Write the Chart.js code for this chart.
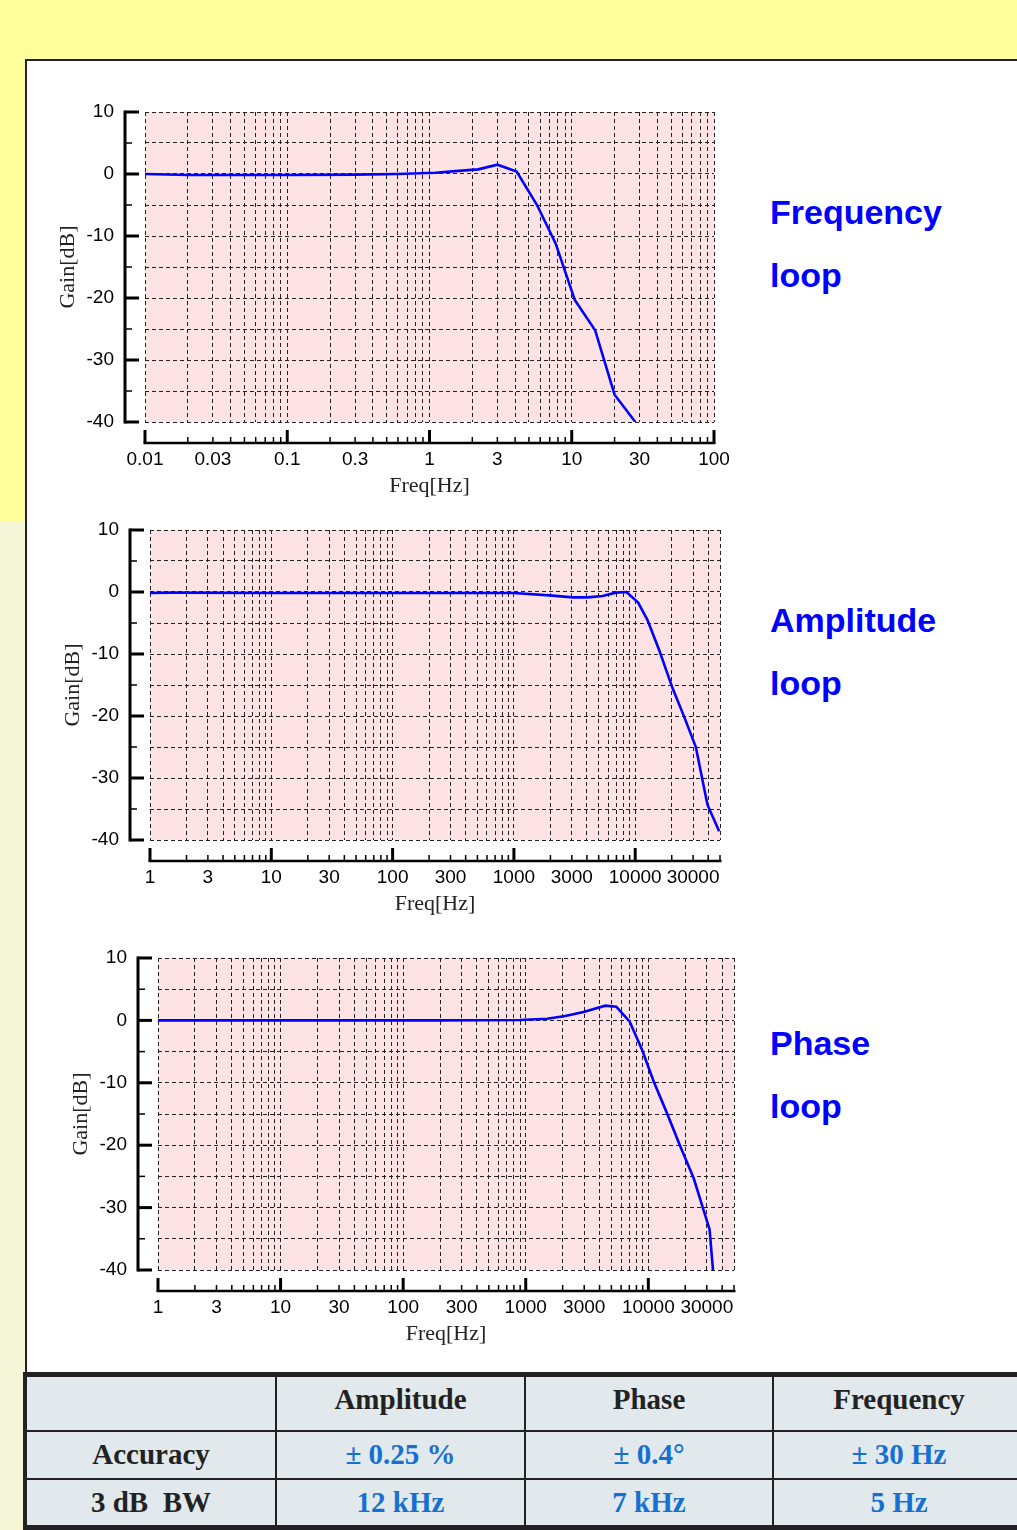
<!DOCTYPE html>
<html lang="en">
<head>
  <meta charset="UTF-8">
  <script src="https://cdn.jsdelivr.net/npm/chart.js"></script>
  <title>Loop response</title>
  <style>
    body{margin:0; width:1017px; height:1530px; overflow:hidden; position:relative;
      background:linear-gradient(to bottom, #ffff9c 0, #ffff9c 522px, #f6f6d8 522px);}
    #panel{position:absolute; left:25px; top:59px; width:1100px; height:1400px; background:#fff; border:2px solid #222;}
    canvas{position:absolute; left:30px;}
    .loop{position:absolute; left:770px; font:bold 34px "Liberation Sans", Arial, sans-serif; line-height:63px; color:#0000ff;}
    #spec{position:absolute; left:23px; top:1372px; width:1000px; border-collapse:collapse; background:#e1e9ec;
      font:bold 29px "Liberation Serif", "Times New Roman", serif; color:#222; table-layout:fixed;}
    #spec td{border:2px solid #222; text-align:center; padding:0;}
    #spec tr:first-child td{border-top:5px solid #222; padding-bottom:7px;}
    #spec tr:last-child td{border-bottom:5px solid #222;}
    #spec td:first-child{border-left:4px solid #222;}
    #spec .val{color:#1670d2;}
  </style>
</head>
<body>
  <div id="panel"></div>
  <canvas id="freqChart" width="710" height="430" style="top:82px"></canvas>
  <canvas id="ampChart" width="710" height="430" style="top:500px"></canvas>
  <canvas id="phaseChart" width="710" height="432" style="top:928px"></canvas>

  <div class="loop" style="top:181px">Frequency<br>loop</div>
  <div class="loop" style="top:589px">Amplitude<br>loop</div>
  <div class="loop" style="top:1012px">Phase<br>loop</div>

  <table id="spec">
    <colgroup><col style="width:251px"><col style="width:249px"><col style="width:248px"><col style="width:252px"></colgroup>
    <tr style="height:56px"><td></td><td>Amplitude</td><td>Phase</td><td>Frequency</td></tr>
    <tr style="height:48px"><td>Accuracy</td><td class="val">± 0.25 %</td><td class="val">± 0.4°</td><td class="val">± 30 Hz</td></tr>
    <tr style="height:49px"><td>3 dB&nbsp; BW</td><td class="val">12 kHz</td><td class="val">7 kHz</td><td class="val">5 Hz</td></tr>
  </table>

  <script>
    // values (Hz, dB)
    const freqLoopHz = [0.01, 0.02, 0.1, 0.3, 0.6, 1.1, 1.6, 2.2, 3, 4.1, 5.7, 7.7, 10.5, 14.6, 20, 28];
    const freqLoopGain = [0, -0.15, -0.15, -0.1, 0, 0.2, 0.5, 0.75, 1.5, 0.4, -5, -11.2, -20.3, -25.2, -35.6, -40];

    const ampLoopHz = [1, 1.5, 10, 100, 1000, 1960, 3050, 4050, 5380, 6920, 8470, 10570, 12600, 15780, 20300, 25300, 31600, 39400, 49200];
    const ampLoopGain = [-0.15, -0.1, -0.15, -0.15, -0.15, -0.55, -0.87, -0.87, -0.65, -0.1, 0, -1.7, -4.5, -9.4, -15.5, -20.1, -25, -34.3, -38.6];

    const phaseLoopHz = [1, 10, 100, 200, 900, 1490, 2100, 2960, 4460, 5480, 7050, 8890, 11060, 14220, 18250, 23450, 31600, 33700];
    const phaseLoopGain = [0, 0, 0, 0, 0.06, 0.27, 0.7, 1.35, 2.36, 2.2, -0.2, -4.7, -9.8, -14.9, -20.2, -25.3, -33.5, -40];

    const freqAxisLabels = ['0.01', '0.03', '0.1', '0.3', '1', '3', '10', '30', '100'];
    const hzAxisLabels = ['1', '3', '10', '30', '100', '300', '1000', '3000', '10000', '30000'];
    const gainAxisLabels = ['10', '0', '-10', '-20', '-30', '-40'];

    function logTicks(min, max){
      let out = [];
      for(let e = Math.floor(Math.log10(min)); e <= Math.ceil(Math.log10(max)); e++){
        for(let m = 1; m < 10; m++){
          let v = Number((m * Math.pow(10, e)).toPrecision(6));
          if(v >= min * 0.9999 && v <= max * 1.0001) out.push(v);
        }
      }
      return out;
    }

    const pinkArea = {
      id: 'pinkArea',
      beforeDraw(chart){
        const a = chart.chartArea, ctx = chart.ctx;
        ctx.save();
        ctx.fillStyle = '#fde3e3';
        ctx.fillRect(a.left, a.top, a.right - a.left, a.bottom - a.top);
        ctx.restore();
      }
    };

    // axis lines sit a little away from the plot box, like the original
    const axisLines = {
      id: 'axisLines',
      afterDraw(chart){
        const ctx = chart.ctx, a = chart.chartArea, xs = chart.scales.x, ys = chart.scales.y;
        const ax = a.left - 20, ay = a.bottom + 21;
        ctx.save();
        ctx.strokeStyle = '#000';
        ctx.lineWidth = 3;
        ctx.beginPath();
        ctx.moveTo(ax, ys.getPixelForValue(ys.max) - 1.5);
        ctx.lineTo(ax, ys.getPixelForValue(ys.min) + 1.5);
        ctx.stroke();
        ys.ticks.forEach(function(t){
          const y = ys.getPixelForValue(t.value);
          const major = t.value % 10 === 0;
          ctx.lineWidth = major ? 3 : 1.5;
          ctx.beginPath();
          ctx.moveTo(ax, y);
          ctx.lineTo(ax + (major ? 14 : 7), y);
          ctx.stroke();
        });
        ctx.lineWidth = 2.5;
        ctx.beginPath();
        ctx.moveTo(xs.getPixelForValue(xs.min) - 1.5, ay);
        ctx.lineTo(xs.getPixelForValue(xs.max) + 1.5, ay);
        ctx.stroke();
        xs.ticks.forEach(function(t){
          const x = xs.getPixelForValue(t.value);
          const m = t.value / Math.pow(10, Math.floor(Math.log10(t.value) + 1e-9));
          const major = Math.abs(m - 1) < 1e-6;
          ctx.lineWidth = major ? 3 : 1.5;
          ctx.beginPath();
          ctx.moveTo(x, ay);
          ctx.lineTo(x, ay - (major ? 13 : 6));
          ctx.stroke();
        });
        ctx.restore();
      }
    };

    function noPad(s){
      s.paddingLeft = 0; s.paddingRight = 0; s.paddingTop = 0; s.paddingBottom = 0;
    }

    function drawLoop(id, hz, gain, xMin, xMax, xLabels, box){
      new Chart(document.getElementById(id), {
        type: 'line',
        data: {
          datasets: [{
            data: hz.map(function(f, i){ return {x: f, y: gain[i]}; }),
            borderColor: '#0000ff',
            borderWidth: 2.6,
            pointRadius: 0,
            tension: 0
          }]
        },
        options: {
          responsive: false,
          animation: false,
          events: [],
          layout: {autoPadding: false, padding: {top: 30, right: 740 - box.right, left: 0, bottom: 0}},
          plugins: {legend: {display: false}, tooltip: {enabled: false}},
          scales: {
            x: {
              type: 'logarithmic',
              min: xMin,
              max: xMax,
              afterBuildTicks(s){ s.ticks = logTicks(xMin, xMax).map(function(v){ return {value: v}; }); },
              afterFit(s){ s.height = 90; noPad(s); },
              grid: {color: '#222', lineWidth: 1, drawTicks: false},
              border: {display: false, dash: [4, 3]},
              ticks: {
                autoSkip: false, maxRotation: 0, minRotation: 0, padding: 26, color: '#000',
                font: {family: '"Liberation Sans", Arial, sans-serif', size: 19},
                callback(v){
                  const l = xLabels.find(function(s){ return Math.abs(Number(s) - v) < v * 1e-6; });
                  return l === undefined ? '' : l;
                }
              },
              title: {
                display: true, text: 'Freq[Hz]', color: '#222',
                font: {family: '"Liberation Serif", "Times New Roman", serif', size: 22},
                padding: {top: 0, bottom: 13}
              }
            },
            y: {
              min: -40,
              max: 10,
              afterFit(s){ s.width = box.left - 30; noPad(s); },
              grid: {color: '#222', lineWidth: 1, drawTicks: false},
              border: {display: false, dash: [4, 3]},
              ticks: {
                stepSize: 5, padding: 31, color: '#000',
                font: {family: '"Liberation Sans", Arial, sans-serif', size: 19},
                callback(v){ return gainAxisLabels.indexOf(String(v)) >= 0 ? String(v) : ''; }
              },
              title: {
                display: true, text: 'Gain[dB]', color: '#222',
                font: {family: '"Liberation Serif", "Times New Roman", serif', size: 22},
                padding: {top: box.yTitle - 30 - 13, bottom: 0}
              }
            }
          }
        },
        plugins: [pinkArea, axisLines]
      });
    }

    drawLoop('freqChart', freqLoopHz, freqLoopGain, 0.01, 100, freqAxisLabels, {left: 145, right: 714, yTitle: 68});
    drawLoop('ampChart', ampLoopHz, ampLoopGain, 1, 50000, hzAxisLabels, {left: 150, right: 720, yTitle: 73});
    drawLoop('phaseChart', phaseLoopHz, phaseLoopGain, 1, 50000, hzAxisLabels, {left: 158, right: 734, yTitle: 81});
  </script>
</body>
</html>
